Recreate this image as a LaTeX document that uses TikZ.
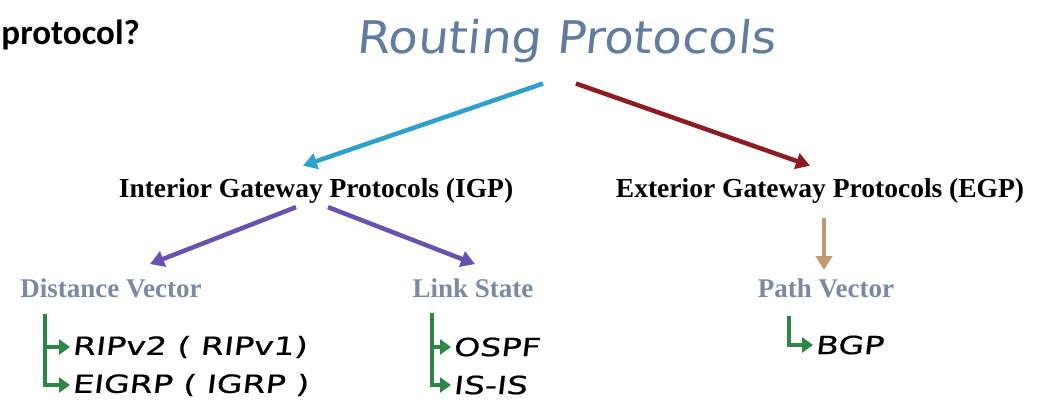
\documentclass[tikz,border=0pt]{standalone}
\usepackage{fontspec}
\setmainfont{Liberation Serif}
\newfontfamily\handfont[FakeSlant=0.1,FakeStretch=1.07]{DejaVu Sans}
\newfontfamily\itemfont[FakeSlant=0.12,FakeStretch=1.33,FakeBold=0.6]{DejaVu Sans}
\newfontfamily\qfont{Carlito}
\usepackage{xcolor}
\usepackage{tikz}
\usetikzlibrary{arrows.meta,calc}

\definecolor{titleblue}{RGB}{98,124,160}
\definecolor{grayblue}{RGB}{122,138,160}
\definecolor{igpblue}{RGB}{45,160,205}
\definecolor{egpred}{RGB}{140,28,32}
\definecolor{splitpurple}{RGB}{106,80,176}
\definecolor{pvtan}{RGB}{196,150,112}
\definecolor{leafgreen}{RGB}{46,134,70}

\begin{document}
\begin{tikzpicture}[x=1pt, y=-1pt, >={Triangle[length=14pt,width=16pt]},
  gw/.style={inner sep=0pt, anchor=base, font=\bfseries\fontsize{27.5}{32}\selectfont},
  kind/.style={inner sep=0pt, anchor=base, text=grayblue, font=\bfseries\fontsize{27}{32}\selectfont},
  proto/.style={inner sep=0pt, anchor=west, font=\itemfont\fontsize{25}{30}\selectfont},
  fat/.style={line width=4.5pt, ->},
  leaf/.style={line width=4.5pt, leafgreen, -{Triangle[length=11pt,width=15pt]}}]

\useasboundingbox (0,0) rectangle (1037,414);

\node (q) [inner sep=0pt, anchor=base east, font=\qfont\bfseries\fontsize{35}{40}\selectfont] at (140,45) {protocol?};
\node (title) [inner sep=0pt, anchor=base, text=titleblue, font=\handfont\fontsize{45}{54}\selectfont] at (566,54) {Routing Protocols};

\node (igp) [gw] at (316,198) {Interior Gateway Protocols (IGP)};
\node (egp) [gw] at (820,198) {Exterior Gateway Protocols (EGP)};

\node (dv) [kind] at (111,298) {Distance Vector};
\node (ls) [kind] at (473,298) {Link State};
\node (pv) [kind] at (826,298) {Path Vector};

\node (rip) [proto] at (72,347) {RIPv2 ( RIPv1)};
\node (eigrp) [proto] at (72,385) {EIGRP ( IGRP )};
\node (ospf) [proto] at (453,347) {OSPF};
\node (isis) [proto] at (453,385) {IS-IS};
\node (bgp) [proto] at (815,345) {BGP};

\draw[fat, igpblue] ([xshift=-23pt,yshift=-20pt]title.south) -- ([xshift=-13pt,yshift=13pt]igp.north);
\draw[fat, egpred] ([xshift=10pt,yshift=-20pt]title.south) -- ([xshift=-10pt,yshift=13pt]egp.north);
\draw[fat, splitpurple] ([xshift=-20pt,yshift=-3pt]igp.south) -- ([xshift=39pt,yshift=15pt]dv.north);
\draw[fat, splitpurple] ([xshift=12pt,yshift=-3pt]igp.south) -- ([xshift=2pt,yshift=15pt]ls.north);
\draw[fat, pvtan, line width=3.5pt] ([xshift=4pt,yshift=-14pt]egp.south) -- ([xshift=-2pt,yshift=9pt]pv.north);

\coordinate (dvbar) at ([xshift=-66pt,yshift=-15pt]dv.south);
\coordinate (lsbar) at ([xshift=-41pt,yshift=-15pt]ls.south);
\coordinate (pvbar) at ([xshift=-37pt,yshift=-17pt]pv.south);

\draw[leaf] (dvbar) |- ([xshift=-2pt]eigrp.west);
\draw[leaf] (dvbar |- rip.west) -- ([xshift=-2pt]rip.west);
\draw[leaf] (lsbar) |- ([xshift=-2pt]isis.west);
\draw[leaf] (lsbar |- ospf.west) -- ([xshift=-2pt]ospf.west);
\draw[leaf] (pvbar) |- ([xshift=-2pt]bgp.west);

\end{tikzpicture}
\end{document}
